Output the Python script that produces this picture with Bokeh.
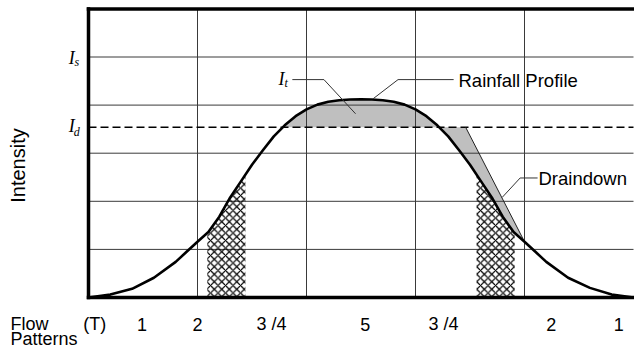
import numpy as np
from bokeh.plotting import figure
from bokeh.models import ColumnDataSource
from bokeh.core.properties import value
from bokeh.embed import file_html
from bokeh.resources import INLINE

# ---- data (x: time columns 0..5, y: intensity grid units 0..6) ----
curve_x = [0.0, 0.2, 0.4, 0.6, 0.8, 0.9, 1.0, 1.1, 1.2, 1.3, 1.4, 1.5, 1.6, 1.7, 1.8, 1.9,
           2.0, 2.1, 2.2, 2.3, 2.4, 2.5, 2.6, 2.7, 2.8, 2.9, 3.0, 3.1, 3.2, 3.3, 3.4,
           3.5, 3.6, 3.7, 3.8, 3.9, 4.0, 4.1, 4.2, 4.4, 4.6, 4.8, 5.0]
curve_y = [0.0, 0.06, 0.18, 0.41, 0.74, 0.95, 1.16, 1.36, 1.68, 2.08, 2.42, 2.76, 3.06, 3.35, 3.58, 3.77,
           3.91, 4.01, 4.07, 4.10, 4.115, 4.12, 4.115, 4.10, 4.07, 4.01, 3.91, 3.77, 3.58, 3.35, 3.06,
           2.76, 2.42, 2.08, 1.68, 1.36, 1.16, 0.95, 0.74, 0.41, 0.20, 0.06, 0.0]

I_s = 5.0
I_d = 3.54

draindown_x = [3.46, 4.0]
draindown_y = [3.54, 1.16]

hatch_x0 = [1.09, 3.56]
hatch_x1 = [1.44, 3.91]

flow_pos = [0.058, 0.49, 1.0, 1.68, 2.54, 3.257, 4.246, 4.865]
flow_labels = ["(T)", "1", "2", "3 /4", "5", "3 /4", "2", "1"]

frame_x = [0.0, 5.0]
frame_y = [0.0, 6.0]
x_grid_ticks = [1, 2, 3, 4]
y_grid_ticks = [1, 2, 3, 4, 5]

it_leader_x = [1.87, 2.16, 2.45]
it_leader_y = [4.53, 4.53, 3.82]
rain_leader_x = [3.35, 2.84, 2.61]
rain_leader_y = [4.53, 4.53, 4.13]
drain_leader_x = [4.12, 3.96, 3.795]
drain_leader_y = [2.485, 2.485, 2.08]

# ---- figure: the plotting area spans the whole canvas; the chart box is drawn at 0..5 x 0..6 ----
W, H = 634, 349
X0_PX, PX_X = 88.0, 109.0      # canvas x of data x=0, pixels per x unit
Y0_PX, PX_Y = 297.0, 48.1      # canvas y of data y=0, pixels per y unit
x_range = (-X0_PX / PX_X, (W - X0_PX) / PX_X)
y_range = ((Y0_PX - H) / PX_Y, Y0_PX / PX_Y)

p = figure(width=W, height=H, x_range=x_range, y_range=y_range,
           output_backend="svg", toolbar_location=None,
           min_border=0, min_border_left=0, min_border_right=0,
           min_border_top=0, min_border_bottom=0)
p.axis.visible = False
p.grid.visible = False
p.outline_line_color = None
p.background_fill_color = "white"
p.border_fill_color = "white"

gx = np.array(x_grid_ticks, dtype=float)
gy = np.array(y_grid_ticks, dtype=float)

def draw_grid():
    p.segment(x0=gx, y0=[frame_y[0]] * len(gx), x1=gx, y1=[frame_y[1]] * len(gx),
              line_color="#3a3a3a", line_width=1)
    p.segment(x0=[frame_x[0]] * len(gy), y0=gy, x1=[frame_x[1]] * len(gy), y1=gy,
              line_color="#3a3a3a", line_width=1)

cx = np.array(curve_x)
cy = np.array(curve_y)
peak = int(np.argmax(cy))

# gray region: rainfall above I_d plus the draindown wedge
xl = float(np.interp(I_d, cy[:peak + 1], cx[:peak + 1]))
mask = (cx > xl) & (cx < draindown_x[1])
poly_x = [xl] + list(cx[mask]) + [draindown_x[1], draindown_x[0]]
poly_y = [I_d] + list(cy[mask]) + [draindown_y[1], draindown_y[0]]
p.patch(poly_x, poly_y, fill_color="#bfbfbf", line_color=None)

# grid (drawn over the gray fill, as in the original)
draw_grid()

# cross-hatched bands under the curve
for a, b in zip(hatch_x0, hatch_x1):
    inside = (cx > a) & (cx < b)
    hx = [a] + list(cx[inside]) + [b]
    hy = [float(np.interp(a, cx, cy))] + list(cy[inside]) + [float(np.interp(b, cx, cy))]
    p.varea(x=hx, y1=[0] * len(hx), y2=hy, fill_color="white", fill_alpha=0,
            hatch_pattern="x", hatch_color="black", hatch_scale=7.5, hatch_weight=1.2)

# I_d dashed level
p.line(frame_x, [I_d, I_d], line_color="black", line_width=1.4, line_dash="8 4")

# draindown edge
p.line(draindown_x, draindown_y, line_color="#222222", line_width=1)

# rainfall profile curve
p.line(curve_x, curve_y, line_color="black", line_width=2.6, line_join="round")

# leader lines
for lx, ly in ((it_leader_x, it_leader_y), (rain_leader_x, rain_leader_y), (drain_leader_x, drain_leader_y)):
    p.line(lx, ly, line_color="#333333", line_width=1)

# thick chart box (left, top, bottom)
p.line([frame_x[0], frame_x[0]], frame_y, line_color="black", line_width=3.5, line_cap="square")
p.line(frame_x, [frame_y[1], frame_y[1]], line_color="black", line_width=3.5, line_cap="square")
p.line(frame_x, [frame_y[0], frame_y[0]], line_color="black", line_width=3.5, line_cap="square")

sans = value("Liberation Sans")
serif = value("Liberation Serif")

def px(xp):
    return (xp - X0_PX) / PX_X

def py(yp):
    return (Y0_PX - yp) / PX_Y

# flow pattern labels along the bottom
src = ColumnDataSource(dict(x=flow_pos, y=[py(323.5)] * len(flow_pos), t=flow_labels))
p.text(x="x", y="y", text="t", source=src, text_font=sans, text_font_size="18px",
       text_align="center", text_baseline="middle", text_color="black")

def txt(x, y, t, font=sans, size="18.5px", style="normal", align="left", baseline="middle", angle=0.0):
    p.text(x=[x], y=[y], text=[t], text_font=font, text_font_size=size,
           text_font_style=style, text_align=align, text_baseline=baseline,
           text_color="black", angle=angle)

txt(px(458), py(79.5), "Rainfall Profile")
txt(px(538), py(177.5), "Draindown")
txt(px(17), py(165), "Intensity", size="20px", align="center", angle=np.pi / 2)
txt(px(10), py(323.5), "Flow", size="18px")
txt(px(10), py(338.5), "Patterns", size="18px")

# I_s, I_d, I_t symbols (italic serif with subscripts)
txt(px(68.3), py(57.5), "I", font=serif, size="18px", style="italic")
txt(px(74.0), py(61.5), "s", font=serif, size="12px", style="italic")
txt(px(68.3), py(125.8), "I", font=serif, size="18px", style="italic")
txt(px(73.3), py(131.0), "d", font=serif, size="12px", style="italic")
txt(px(278.0), py(78.5), "I", font=serif, size="18px", style="italic")
txt(px(284.0), py(82.0), "t", font=serif, size="12px", style="italic")

open("out.html", "w").write(file_html(p, INLINE))
